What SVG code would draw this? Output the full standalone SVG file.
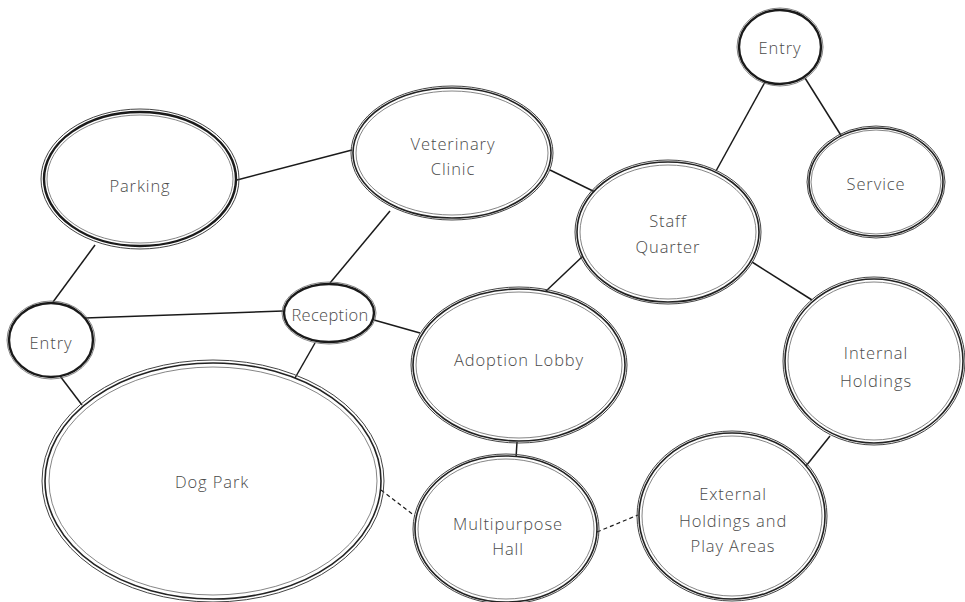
<svg xmlns="http://www.w3.org/2000/svg" width="965" height="602" viewBox="0 0 965 602">
<style>
.bg{fill:#fff}
.a{fill:#fff;stroke:#222;stroke-width:1.6}
.b{fill:none;stroke:#444;stroke-width:1}
.c{fill:none;stroke:#666;stroke-width:0.8}
.k{fill:#fff;stroke:#1a1a1a;stroke-width:2.4}
.t{font-family:"Open Sans","Liberation Sans",sans-serif;font-size:16.5px;letter-spacing:0.9px;fill:#4a4a4a;text-anchor:middle;dominant-baseline:central;font-weight:300}
.l{stroke:#1a1a1a;stroke-width:1.5;fill:none}
.d{stroke:#1a1a1a;stroke-width:1.2;fill:none;stroke-dasharray:4 3}
</style>
<rect class="bg" width="965" height="602"/>
<g id="connectors">
<line class="l" x1="237" y1="180" x2="352" y2="150"/>
<line class="l" x1="95" y1="245" x2="53" y2="302"/>
<line class="l" x1="85" y1="318" x2="283" y2="311"/>
<line class="l" x1="60" y1="376" x2="82" y2="405"/>
<line class="l" x1="330" y1="283" x2="390" y2="211"/>
<line class="l" x1="315" y1="343" x2="295" y2="378"/>
<line class="l" x1="374" y1="320" x2="420" y2="333"/>
<line class="l" x1="550" y1="170" x2="595" y2="192"/>
<line class="l" x1="716" y1="171" x2="765" y2="82"/>
<line class="l" x1="805" y1="78" x2="842" y2="137"/>
<line class="l" x1="583" y1="256" x2="545" y2="292"/>
<line class="l" x1="752" y1="262" x2="812" y2="300"/>
<line class="l" x1="517" y1="442" x2="516" y2="458"/>
<line class="l" x1="830" y1="436" x2="806" y2="466"/>
<line class="d" x1="381" y1="490" x2="415" y2="516"/>
<line class="d" x1="597" y1="532" x2="638" y2="515"/>
</g>
<g id="entry-top">
<ellipse class="k" cx="780" cy="47" rx="41" ry="37"/>
<ellipse class="c" cx="780" cy="47" rx="43" ry="39"/>
<text class="t" x="780" y="47">Entry</text>
</g>
<g id="service">
<ellipse class="a" cx="876" cy="182" rx="67" ry="54"/>
<ellipse class="b" cx="876" cy="182" rx="69" ry="56"/>
<ellipse class="c" cx="876" cy="182" rx="65" ry="52"/>
<text class="t" x="876" y="183">Service</text>
</g>
<g id="parking">
<ellipse class="k" cx="140" cy="179" rx="96" ry="67"/>
<ellipse class="b" cx="140" cy="179" rx="99" ry="70"/>
<ellipse class="c" cx="140" cy="179" rx="93" ry="64"/>
<text class="t" x="140" y="185">Parking</text>
</g>
<g id="veterinary-clinic">
<ellipse class="a" cx="452" cy="153" rx="99" ry="65"/>
<ellipse class="b" cx="452" cy="153" rx="101" ry="67"/>
<ellipse class="c" cx="452" cy="153" rx="96" ry="62"/>
<text class="t" x="453" y="143">Veterinary</text>
<text class="t" x="453" y="168">Clinic</text>
</g>
<g id="staff-quarter">
<ellipse class="a" cx="668" cy="232" rx="91" ry="70"/>
<ellipse class="b" cx="668" cy="232" rx="93" ry="72"/>
<ellipse class="c" cx="668" cy="232" rx="88" ry="67"/>
<text class="t" x="668" y="220">Staff</text>
<text class="t" x="668" y="246">Quarter</text>
</g>
<g id="entry-left">
<ellipse class="k" cx="51" cy="340" rx="42" ry="37"/>
<ellipse class="c" cx="51" cy="340" rx="44" ry="39"/>
<text class="t" x="51" y="342">Entry</text>
</g>
<g id="reception">
<ellipse class="k" cx="329" cy="313" rx="45" ry="29"/>
<ellipse class="c" cx="329" cy="313" rx="47" ry="31"/>
<text class="t" x="330" y="314" style="letter-spacing:0.3px">Reception</text>
</g>
<g id="adoption-lobby">
<ellipse class="a" cx="519" cy="365" rx="106" ry="76"/>
<ellipse class="b" cx="519" cy="365" rx="108" ry="78"/>
<ellipse class="c" cx="519" cy="365" rx="103" ry="73"/>
<text class="t" x="519" y="359">Adoption Lobby</text>
</g>
<g id="internal-holdings">
<ellipse class="a" cx="874" cy="361" rx="89" ry="82"/>
<ellipse class="b" cx="874" cy="361" rx="91" ry="84"/>
<ellipse class="c" cx="874" cy="361" rx="86" ry="79"/>
<text class="t" x="876" y="352">Internal</text>
<text class="t" x="876" y="380">Holdings</text>
</g>
<g id="dog-park">
<ellipse class="a" cx="213" cy="481" rx="168" ry="118"/>
<ellipse class="b" cx="213" cy="481" rx="171" ry="121"/>
<ellipse class="c" cx="213" cy="481" rx="164" ry="114"/>
<text class="t" x="212" y="481">Dog Park</text>
</g>
<g id="multipurpose-hall">
<ellipse class="a" cx="506" cy="529" rx="91" ry="73"/>
<ellipse class="b" cx="506" cy="529" rx="93" ry="75"/>
<ellipse class="c" cx="506" cy="529" rx="88" ry="70"/>
<text class="t" x="508" y="523">Multipurpose</text>
<text class="t" x="508" y="548">Hall</text>
</g>
<g id="external-holdings">
<ellipse class="a" cx="732" cy="516" rx="93" ry="83"/>
<ellipse class="b" cx="732" cy="516" rx="95" ry="85"/>
<ellipse class="c" cx="732" cy="516" rx="90" ry="80"/>
<text class="t" x="733" y="493">External</text>
<text class="t" x="733" y="520">Holdings and</text>
<text class="t" x="733" y="545">Play Areas</text>
</g>
</svg>
